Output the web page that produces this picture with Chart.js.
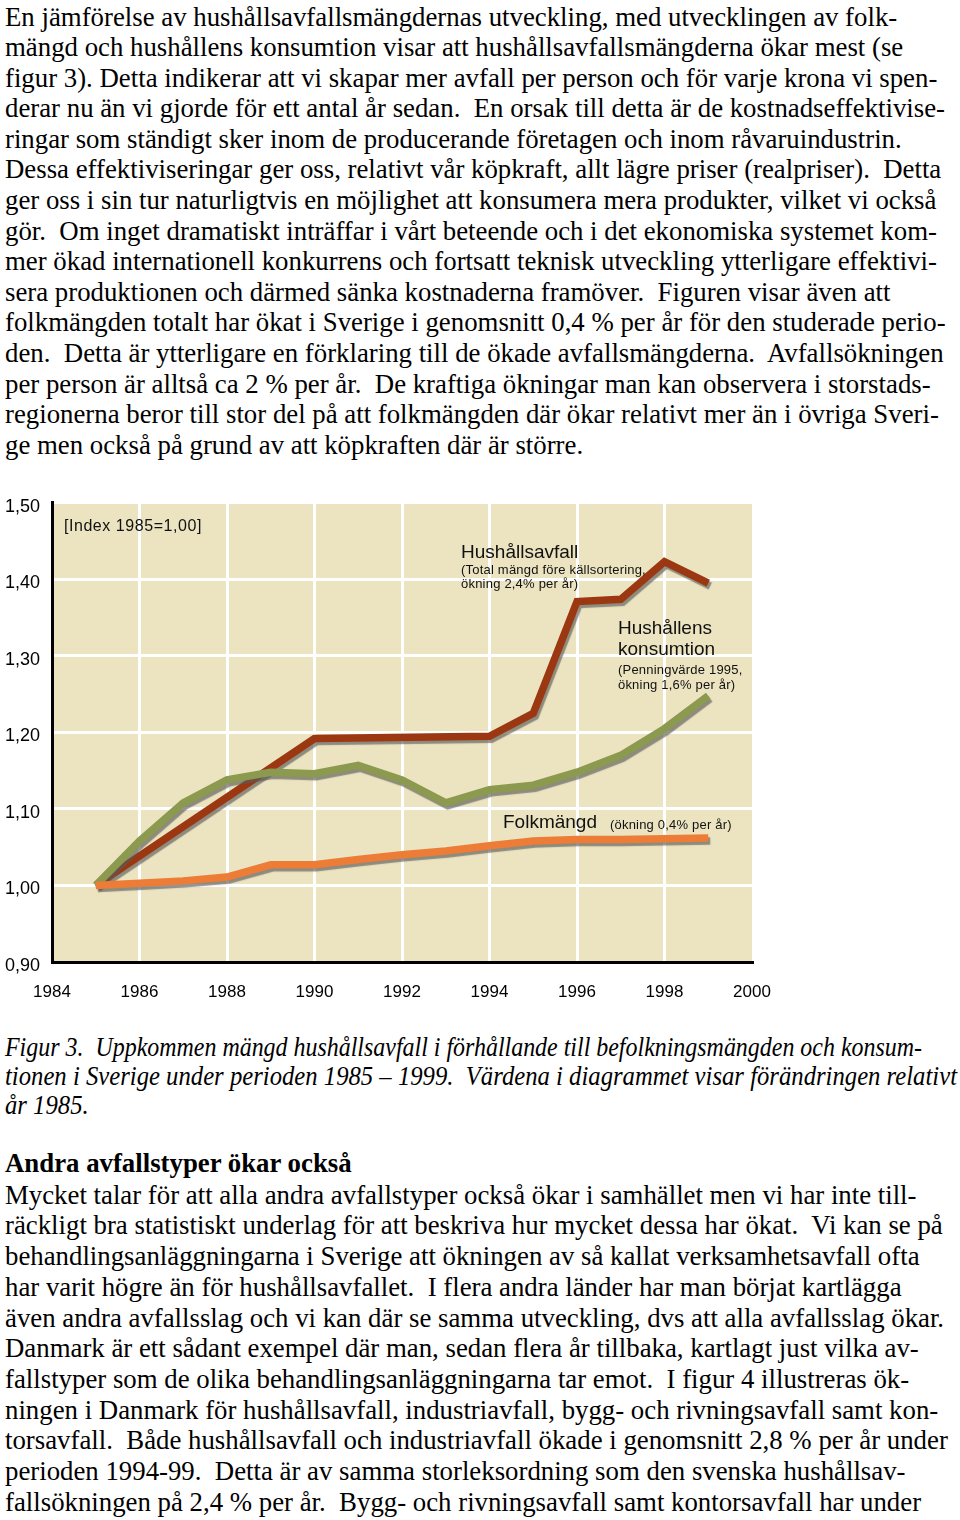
<!DOCTYPE html>
<html><head><meta charset="utf-8">
<script src="https://cdn.jsdelivr.net/npm/chart.js@4"></script>
<style>
html,body{margin:0;padding:0;background:#fff;}
body{width:960px;height:1520px;position:relative;overflow:hidden;}
.t{position:absolute;left:5px;font-family:'Liberation Serif','Times New Roman',serif;font-size:26.8px;white-space:pre;color:#000;width:max-content;}
.i{font-style:italic;transform-origin:0 0;line-height:29px;}
.b{font-weight:bold;}
#chartBox{position:absolute;left:0;top:480px;width:960px;height:530px;}
</style></head><body>
<div class="t" style="top:1.6px;line-height:30.58px">En jämförelse av hushållsavfallsmängdernas utveckling, med utvecklingen av folk-
mängd och hushållens konsumtion visar att hushållsavfallsmängderna ökar mest (se
figur 3). Detta indikerar att vi skapar mer avfall per person och för varje krona vi spen-
derar nu än vi gjorde för ett antal år sedan.  En orsak till detta är de kostnadseffektivise-
ringar som ständigt sker inom de producerande företagen och inom råvaruindustrin.
Dessa effektiviseringar ger oss, relativt vår köpkraft, allt lägre priser (realpriser).  Detta
ger oss i sin tur naturligtvis en möjlighet att konsumera mera produkter, vilket vi också
gör.  Om inget dramatiskt inträffar i vårt beteende och i det ekonomiska systemet kom-
mer ökad internationell konkurrens och fortsatt teknisk utveckling ytterligare effektivi-
sera produktionen och därmed sänka kostnaderna framöver.  Figuren visar även att
folkmängden totalt har ökat i Sverige i genomsnitt 0,4 % per år för den studerade perio-
den.  Detta är ytterligare en förklaring till de ökade avfallsmängderna.  Avfallsökningen
per person är alltså ca 2 % per år.  De kraftiga ökningar man kan observera i storstads-
regionerna beror till stor del på att folkmängden där ökar relativt mer än i övriga Sveri-
ge men också på grund av att köpkraften där är större.</div>

<div id="chartBox"><canvas id="c"></canvas></div>

<div id="cap1" class="t i" style="top:1033px">Figur 3.  Uppkommen mängd hushållsavfall i förhållande till befolkningsmängden och konsum-</div>
<div id="cap2" class="t i" style="top:1062px">tionen i Sverige under perioden 1985 – 1999.  Värdena i diagrammet visar förändringen relativt</div>
<div id="cap3" class="t i" style="top:1091px">år 1985.</div>
<div class="t b" style="top:1148px;line-height:30.6px">Andra avfallstyper ökar också</div>
<div class="t" style="top:1179.7px;line-height:30.7px">Mycket talar för att alla andra avfallstyper också ökar i samhället men vi har inte till-
räckligt bra statistiskt underlag för att beskriva hur mycket dessa har ökat.  Vi kan se på
behandlingsanläggningarna i Sverige att ökningen av så kallat verksamhetsavfall ofta
har varit högre än för hushållsavfallet.  I flera andra länder har man börjat kartlägga
även andra avfallsslag och vi kan där se samma utveckling, dvs att alla avfallsslag ökar.
Danmark är ett sådant exempel där man, sedan flera år tillbaka, kartlagt just vilka av-
fallstyper som de olika behandlingsanläggningarna tar emot.  I figur 4 illustreras ök-
ningen i Danmark för hushållsavfall, industriavfall, bygg- och rivningsavfall samt kon-
torsavfall.  Både hushållsavfall och industriavfall ökade i genomsnitt 2,8 % per år under
perioden 1994-99.  Detta är av samma storleksordning som den svenska hushållsav-
fallsökningen på 2,4 % per år.  Bygg- och rivningsavfall samt kontorsavfall har under</div>

<script>
// ---- data ----
const years = [1985, 1986, 1987, 1988, 1989, 1990, 1991, 1992, 1993, 1994, 1995, 1996, 1997, 1998, 1999];
const hushallsavfall = [1.000, null, null, null, null, 1.192, null, null, null, 1.195, 1.225, 1.371, 1.374, 1.423, 1.395];
const konsumtion = [1.000, 1.058, 1.108, 1.138, 1.148, 1.146, 1.157, 1.138, 1.108, 1.125, 1.131, 1.148, 1.170, 1.205, 1.248];
const folkmangd = [1.000, 1.003, 1.006, 1.011, 1.027, 1.027, 1.034, 1.040, 1.045, 1.052, 1.058, 1.060, 1.060, 1.061, 1.062];
const xTickLabels = ['1984', '1986', '1988', '1990', '1992', '1994', '1996', '1998', '2000'];
const yTickLabels = ['0,90', '1,00', '1,10', '1,20', '1,30', '1,40', '1,50'];

// narrow the italic caption lines to the reference's measure
(function () {
  const c1 = document.getElementById('cap1');
  const c2 = document.getElementById('cap2');
  const c3 = document.getElementById('cap3');
  const w1 = c1.getBoundingClientRect().width;
  const w2 = c2.getBoundingClientRect().width;
  if (w1 > 0) c1.style.transform = 'scaleX(' + (917 / w1) + ')';
  if (w2 > 0) {
    c2.style.transform = 'scaleX(' + (952 / w2) + ')';
    c3.style.transform = 'scaleX(' + (952 / w2) + ')';
  }
})();

const toPts = vals => years.map((y, i) => ({x: y, y: vals[i]}));

const bgPlugin = {
  id: 'bg',
  beforeDraw(chart) {
    const {ctx, chartArea: a} = chart;
    ctx.save();
    ctx.fillStyle = '#ECE4C0';
    ctx.fillRect(a.left, a.top, a.right - a.left, a.bottom - a.top);
    ctx.restore();
  }
};
const shadowPlugin = {
  id: 'shadow',
  beforeDatasetDraw(chart) {
    const ctx = chart.ctx;
    ctx.save();
    ctx.shadowColor = 'rgba(90,90,90,0.65)';
    ctx.shadowOffsetX = 2;
    ctx.shadowOffsetY = 3;
    ctx.shadowBlur = 1;
  },
  afterDatasetDraw(chart) { chart.ctx.restore(); }
};
const notes = [
  {text: '[Index 1985=1,00]', x: 1984.274, y: 1.4688, size: 16, ls: '0.55px'},
  {text: 'Hushållsavfall', x: 1993.35, y: 1.435, size: 19, ls: '0px'},
  {text: '(Total mängd före källsortering,', x: 1993.35, y: 1.4115, size: 13, ls: '0.2px'},
  {text: 'ökning 2,4% per år)', x: 1993.35, y: 1.3933, size: 13, ls: '0.2px'},
  {text: 'Hushållens', x: 1996.937, y: 1.336, size: 19, ls: '0px'},
  {text: 'konsumtion', x: 1996.937, y: 1.3074, size: 19, ls: '0px'},
  {text: '(Penningvärde 1995,', x: 1996.937, y: 1.2814, size: 13, ls: '0.2px'},
  {text: 'ökning 1,6% per år)', x: 1996.937, y: 1.2618, size: 13, ls: '0.2px'},
  {text: 'Folkmängd', x: 1994.309, y: 1.0822, size: 19, ls: '0px'},
  {text: '(ökning 0,4% per år)', x: 1996.754, y: 1.0783, size: 13, ls: '0.2px'}
];
const notePlugin = {
  id: 'notes',
  afterDatasetsDraw(chart) {
    const {ctx, scales: {x, y}} = chart;
    ctx.save();
    ctx.fillStyle = '#111';
    ctx.textAlign = 'left';
    ctx.textBaseline = 'middle';
    notes.forEach(n => {
      ctx.font = n.size + 'px "Liberation Sans", Arial, sans-serif';
      ctx.letterSpacing = n.ls;
      ctx.fillText(n.text, x.getPixelForValue(n.x), y.getPixelForValue(n.y));
    });
    ctx.restore();
  }
};

const common = {borderWidth: 7.5, pointRadius: 0, tension: 0, borderJoinStyle: 'miter', borderCapStyle: 'butt', spanGaps: true, fill: false};

new Chart(document.getElementById('c'), {
  type: 'line',
  data: {
    datasets: [
      Object.assign({label: 'Folkmängd', data: toPts(folkmangd), borderColor: '#EC7C36'}, common),
      Object.assign({label: 'Hushållens konsumtion', data: toPts(konsumtion), borderColor: '#8B9A4F'}, common),
      Object.assign({label: 'Hushållsavfall', data: toPts(hushallsavfall), borderColor: '#9B3812'}, common)
    ]
  },
  options: {
    responsive: true,
    maintainAspectRatio: false,
    animation: false,
    layout: {padding: {top: 21, right: 208, bottom: 0, left: 0}},
    plugins: {legend: {display: false}, tooltip: {enabled: false}},
    scales: {
      x: {
        type: 'linear', min: 1984, max: 2000,
        afterFit(s) { s.height = 48; },
        ticks: {stepSize: 2, padding: 20, color: '#000', font: {family: '"Liberation Sans", Arial, sans-serif', size: 17},
          callback: (v, i) => xTickLabels[i]},
        grid: {color: c => (c.tick && c.tick.value === 2000) ? 'rgba(0,0,0,0)' : '#ffffff', lineWidth: 3, drawTicks: false},
        border: {display: true, color: '#000', width: 3}
      },
      y: {
        min: 0.9, max: 1.5,
        afterFit(s) { s.width = 52; },
        ticks: {stepSize: 0.1, padding: 12, labelOffset: 4, color: '#000', font: {family: '"Liberation Sans", Arial, sans-serif', size: 18},
          callback: (v, i) => yTickLabels[i]},
        grid: {color: '#ffffff', lineWidth: 3, drawTicks: false},
        border: {display: true, color: '#000', width: 3}
      }
    }
  },
  plugins: [bgPlugin, shadowPlugin, notePlugin]
});
</script>
</body></html>
